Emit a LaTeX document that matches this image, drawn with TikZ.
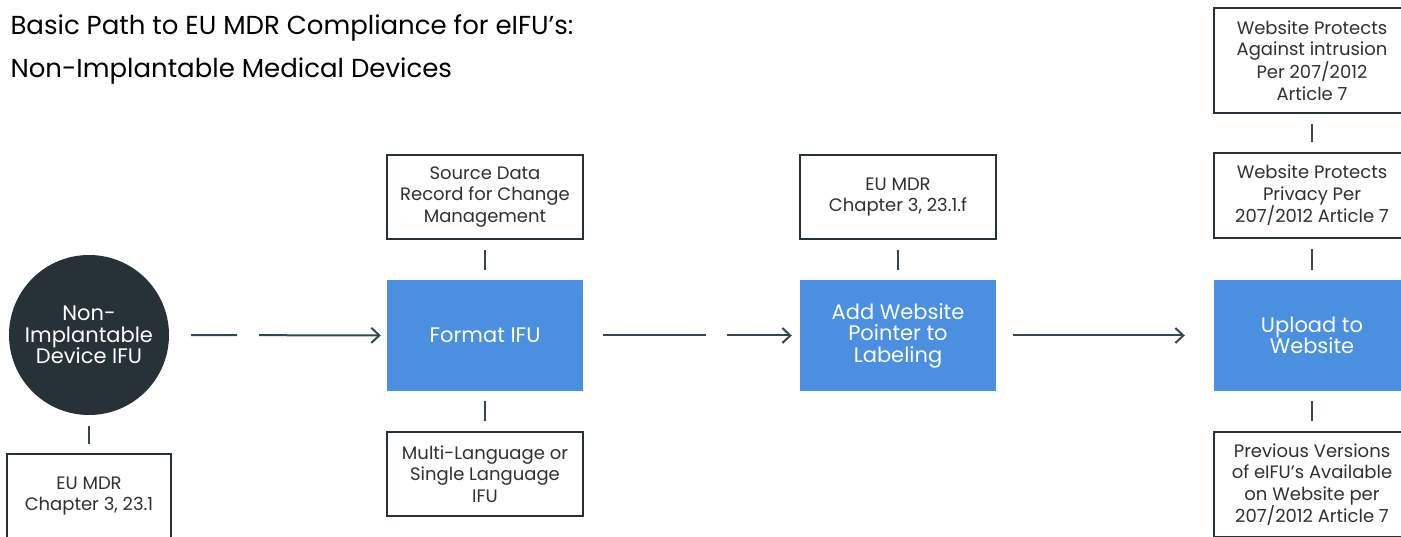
\documentclass[tikz,border=0pt]{standalone}
\usepackage{fontspec}
\setmainfont{Poppins}
\usetikzlibrary{arrows.meta}
\definecolor{darkslate}{HTML}{263238}
\definecolor{lineslate}{HTML}{37474F}
\definecolor{stepblue}{HTML}{4A8FE0}
\definecolor{textgrey}{HTML}{303030}

\begin{document}
\begin{tikzpicture}[x=1pt,y=-1pt,
    notebox/.style={shape=rectangle,draw=darkslate,line width=2pt,minimum width=196,minimum height=84,
        align=center,text=textgrey,font=\fontsize{18}{21.5}\selectfont,inner sep=0pt},
    stepbox/.style={shape=rectangle,fill=stepblue,minimum width=196,minimum height=111,
        align=center,text=white,font=\fontsize{21}{21.5}\selectfont,inner sep=0pt},
    link/.style={draw=lineslate,line width=2pt,shorten <=10,shorten >=10},
    flow/.style={draw=lineslate,line width=2pt,-{Straight Barb[length=8pt,width=15pt,line width=2pt]}}]
    \useasboundingbox (0,0) rectangle (1401,537);
    \node[anchor=base west,font=\fontsize{26}{26}\selectfont] (T1) at (7,35) {Basic Path to EU MDR Compliance for eIFU’s:};
    \node[anchor=base west,font=\fontsize{26}{26}\selectfont] (T2) at (7,78) {Non-Implantable Medical Devices};
    \node[shape=circle,fill=darkslate,minimum size=160,inner sep=0pt,align=center,text=white,
        font=\fontsize{21}{21.5}\selectfont] (IFU) at (89,335) {Non-\\Implantable\\Device IFU};
    \node[notebox,minimum width=164] (MDR) at (89,496) {EU MDR\\Chapter 3, 23.1};
    \node[stepbox] (FMT) at (485,335.5) {Format IFU};
    \node[notebox] (SRC) at (485,197) {Source Data\\Record for Change\\Management};
    \node[notebox] (LANG) at (485,474) {Multi-Language or\\Single Language\\IFU};
    \node[stepbox] (ADD) at (898,335.5) {Add Website\\Pointer to\\Labeling};
    \node[notebox] (MDRF) at (898,197) {EU MDR\\Chapter 3, 23.1.f};
    \node[stepbox] (UPL) at (1312,335.5) {Upload to\\Website};
    \node[notebox,minimum height=85] (PRIV) at (1312,195.5) {Website Protects\\Privacy Per\\207/2012 Article 7};
    \node[notebox,minimum height=105] (INTR) at (1312,60.5) {Website Protects\\Against intrusion\\Per 207/2012\\Article 7};
    \node[notebox,minimum height=105] (PREV) at (1312,484.5) {Previous Versions\\of eIFU’s Available\\on Website per\\207/2012 Article 7};
    \draw [flow,shorten <=22,shorten >=6,dash pattern=on 46 off 22 on 300](IFU) -- (FMT);
    \draw [flow,shorten <=20,shorten >=8,dash pattern=on 103 off 21 on 300](FMT) -- (ADD);
    \draw [flow,shorten <=17,shorten >=29](ADD) -- (UPL);
    \draw [link,shorten <=11,shorten >=9](IFU) -- (MDR);
    \draw [link](SRC) -- (FMT);
    \draw [link](FMT) -- (LANG);
    \draw [link](MDRF) -- (ADD);
    \draw [link](INTR) -- (PRIV);
    \draw [link](PRIV) -- (UPL);
    \draw [link](UPL) -- (PREV);
\end{tikzpicture}
\end{document}
